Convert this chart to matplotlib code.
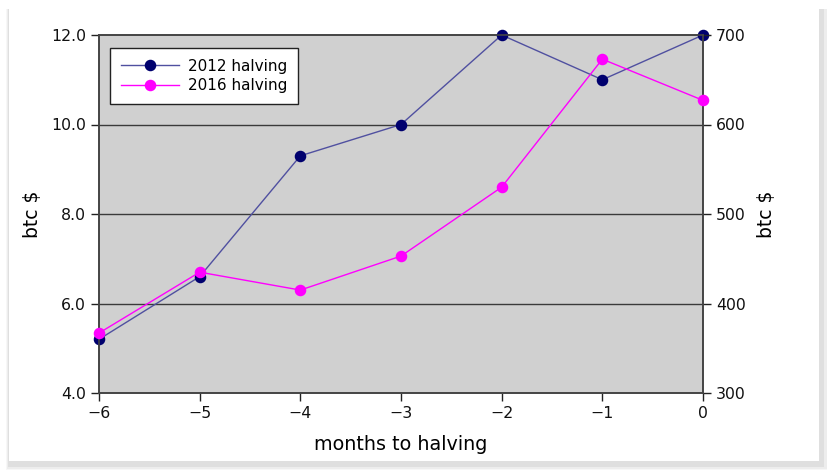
import matplotlib
matplotlib.use("Agg")
import matplotlib.pyplot as plt
from matplotlib.patches import Rectangle

months = [-6, -5, -4, -3, -2, -1, 0]
btc_2012 = [5.2, 6.6, 9.3, 10.0, 12.0, 11.0, 12.0]
btc_2016 = [367, 435, 415, 453, 530, 673, 627]
left_ticks = [4.0, 6.0, 8.0, 10.0, 12.0]
right_ticks = [300, 400, 500, 600, 700]

fig = plt.figure(figsize=(8.27, 4.70), dpi=100)
fig.patch.set_facecolor("white")

# card shadow and card
for i, a in enumerate([0.03, 0.04, 0.06]):
    d = 0.004 * (3 - i)
    fig.patches.append(Rectangle((9/827 - d*0.3, 5/470 - d), (813/827) + d, (456/470) + d,
                                 transform=fig.transFigure, facecolor="black", alpha=a,
                                 edgecolor="none", zorder=-3))
fig.patches.append(Rectangle((9/827, 9/470), 810/827, 452/470, transform=fig.transFigure,
                             facecolor="white", edgecolor="none", zorder=-2))

ax = fig.add_axes([99/827, 1-393/470, (703-99)/827, (393-35)/470])
ax.set_facecolor("#d0d0d0")
ax.set_xlim(-6, 0)
ax.set_ylim(4.0, 12.0)
ax.set_yticks(left_ticks)
ax.set_yticklabels([f"{v:.1f}" for v in left_ticks])
ax.set_xticks(months)
ax.set_xticklabels([str(m).replace("-", "\u2212") for m in months])
for y in left_ticks[1:-1]:
    ax.axhline(y, color="#3a3a3a", lw=1.0, zorder=1)
ax.tick_params(direction="out", length=6, width=1, colors="#222222", labelsize=11.3)

ax2 = ax.twinx()
ax2.set_ylim(300, 700)
ax2.set_yticks(right_ticks)
ax2.tick_params(direction="out", length=6, width=1, colors="#222222", labelsize=11.3)

l1, = ax.plot(months, btc_2012, color="#5050a0", lw=1.0, marker="o", markersize=7.3,
              markerfacecolor="#00006e", markeredgecolor="#00006e", label="2012 halving",
              zorder=3, clip_on=False)
l2, = ax2.plot(months, btc_2016, color="#ff00ff", lw=1.0, marker="o", markersize=7.3,
               markerfacecolor="#ff00ff", markeredgecolor="#ff00ff", label="2016 halving",
               zorder=3, clip_on=False)
for a in (ax, ax2):
    for s in a.spines.values():
        s.set_color("#444444")
        s.set_linewidth(1.2)

ax.set_ylabel("btc $", fontsize=13.5, labelpad=6)
ax2.set_ylabel("btc $", fontsize=13.5, labelpad=8)
ax.set_xlabel("months to halving", fontsize=13.8, labelpad=10)

leg = ax2.legend(handles=[l1, l2], loc="upper left", bbox_to_anchor=(0.018, 0.964),
                 borderaxespad=0, fontsize=11, fancybox=False, framealpha=1,
                 edgecolor="#222222", borderpad=0.7, handlelength=3.8, handletextpad=0.6,
                 labelspacing=0.3)
leg.get_frame().set_linewidth(1.0)

for a in (ax, ax2):
    for lab in a.get_xticklabels() + a.get_yticklabels():
        lab.set_color("#111111")

fig.savefig("out.png", dpi=100)
